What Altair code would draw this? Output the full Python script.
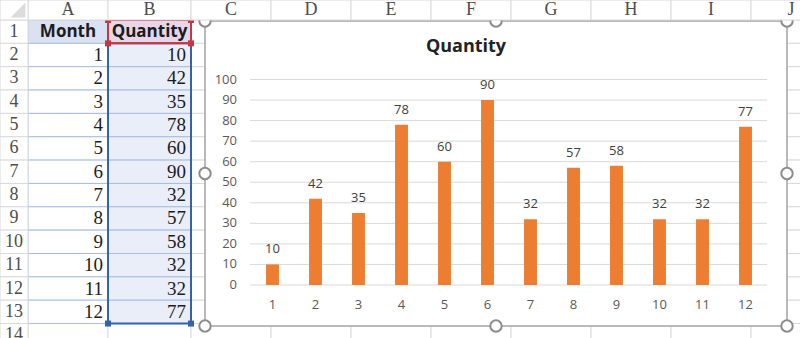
import altair as alt
import pandas as pd

# ---- worksheet contents -------------------------------------------------
columns = ["A", "B", "C", "D", "E", "F", "G", "H", "I", "J"]
sheet_rows = list(range(1, 15))
header_labels = ["Month", "Quantity"]
months = [1, 2, 3, 4, 5, 6, 7, 8, 9, 10, 11, 12]
quantity = [10, 42, 35, 78, 60, 90, 32, 57, 58, 32, 32, 77]
y_ticks = [0, 10, 20, 30, 40, 50, 60, 70, 80, 90, 100]
chart_title = "Quantity"

SERIF = "Liberation Serif"
SANS = "Open Sans"

# ---- scales ---------------------------------------------------------------
# sheet grid in column / row units (columns A and B are a little wider)
sx = alt.Scale(domain=[0, 1, 2, 10], range=[28, 108, 191, 831], zero=False, nice=False)
sy = alt.Scale(domain=[0, 14], range=[20, 346.9], zero=False, nice=False)
# embedded chart object frame in relative units
fx = alt.Scale(domain=[0, 1], range=[205, 787], zero=False, nice=False)
fy = alt.Scale(domain=[0, 1], range=[21, 326], zero=False, nice=False)
# column chart plot area
bx = alt.Scale(type="band", domain=[str(m) for m in months], range=[251, 767],
               paddingInner=0.7, paddingOuter=0.35)
by = alt.Scale(domain=[0, 100], range=[285, 79.5], zero=False, nice=False)

# ---- derived tables -------------------------------------------------------
cells = []
for ci, col in enumerate(columns):
    for r in sheet_rows:
        if r == 1 and col == "A":
            zone = "hdr_a"
        elif r == 1 and col == "B":
            zone = "hdr_b"
        elif 2 <= r <= 13 and col == "A":
            zone = "sel_a"
        elif 2 <= r <= 13 and col == "B":
            zone = "sel_b"
        else:
            zone = "plain"
        cells.append({"x0": ci, "x1": ci + 1, "y0": r - 1, "y1": r, "zone": zone,
                      "order": 0 if zone == "plain" else 1})
cells_df = pd.DataFrame(cells).sort_values("order", kind="stable")

zones = ["plain", "hdr_a", "hdr_b", "sel_a", "sel_b"]
zone_fill = ["#ffffff", "#d9e1f2", "#e6d6e7", "#ffffff", "#e9eef8"]
zone_stroke = ["#dadada", "#c8d2e6", "#d6c4d8", "#a9bde2", "#a9bde2"]

col_df = pd.DataFrame({"x0": range(len(columns)), "label": columns})
col_df["x1"] = col_df["x0"] + 1
col_df["xm"] = col_df["x0"] + 0.5

row_df = pd.DataFrame({"row": sheet_rows})
row_df["y0"] = row_df["row"] - 1
row_df["y1"] = row_df["row"]
row_df["ym"] = row_df["row"] - 0.5
row_df["label"] = row_df["row"].astype(str)

head_df = pd.DataFrame({"xm": [0.5, 1.5], "ym": [0.5, 0.5], "label": header_labels})

values_df = pd.DataFrame({
    "xr": [1] * len(months) + [2] * len(quantity),
    "ym": [i + 1.5 for i in range(len(months))] * 2,
    "label": [str(m) for m in months] + [str(q) for q in quantity],
})

data_df = pd.DataFrame({"Month": [str(m) for m in months], "Quantity": quantity})
tick_df = pd.DataFrame({"tick": y_ticks, "label": [str(t) for t in y_ticks]})

# selection outlines on the sheet
sel_df = pd.DataFrame({"x0": [1], "x1": [2], "y0": [1], "y1": [13]})
active_df = pd.DataFrame({"x0": [1], "x1": [2], "y0": [0], "y1": [1]})
red_handles = pd.DataFrame({"x": [1, 2, 1, 2], "y": [0, 0, 1, 1]})
blue_handles = pd.DataFrame({"x": [1, 2], "y": [13, 13]})

frame_df = pd.DataFrame({"x0": [0], "x1": [1], "y0": [0], "y1": [1]})
frame_handles = pd.DataFrame({
    "x": [0, 0.5, 1, 0, 1, 0, 0.5, 1],
    "y": [0, 0, 0, 0.5, 0.5, 1, 1, 1],
})

# ---- layers -----------------------------------------------------------------
layers = []

# worksheet cells
layers.append(
    alt.Chart(cells_df).mark_rect(strokeWidth=1).encode(
        x=alt.X("x0:Q", scale=sx, axis=None), x2="x1:Q",
        y=alt.Y("y0:Q", scale=sy, axis=None), y2="y1:Q",
        fill=alt.Fill("zone:N", scale=alt.Scale(domain=zones, range=zone_fill), legend=None),
        stroke=alt.Stroke("zone:N", scale=alt.Scale(domain=zones, range=zone_stroke), legend=None),
    )
)

# row header column
layers.append(
    alt.Chart(row_df).mark_rect(fill="#ffffff", stroke="#dadada", strokeWidth=1).encode(
        x=alt.value(0), x2=alt.value(28),
        y=alt.Y("y0:Q", scale=sy, axis=None), y2="y1:Q",
    )
)
layers.append(
    alt.Chart(row_df).mark_text(font=SERIF, fontSize=18, color="#4d4d4d").encode(
        x=alt.value(14),
        y=alt.Y("ym:Q", scale=sy, axis=None),
        text="label:N",
    )
)

# header cells "Month" / "Quantity"
layers.append(
    alt.Chart(head_df).mark_text(font=SANS, fontSize=17, fontWeight="bold", color="#1c1c1c").encode(
        x=alt.X("xm:Q", scale=sx, axis=None),
        y=alt.Y("ym:Q", scale=sy, axis=None),
        text="label:N",
    )
)

# cell values, right aligned
layers.append(
    alt.Chart(values_df).mark_text(font=SERIF, fontSize=19, color="#1c1c1c",
                                   align="right", dx=-5).encode(
        x=alt.X("xr:Q", scale=sx, axis=None),
        y=alt.Y("ym:Q", scale=sy, axis=None),
        text="label:N",
    )
)

# selection outlines and handles
layers.append(
    alt.Chart(sel_df).mark_rect(fill=None, stroke="#3463a8", strokeWidth=2).encode(
        x=alt.X("x0:Q", scale=sx, axis=None), x2="x1:Q",
        y=alt.Y("y0:Q", scale=sy, axis=None), y2="y1:Q",
    )
)
layers.append(
    alt.Chart(active_df).mark_rect(fill=None, stroke="#c8363e", strokeWidth=2).encode(
        x=alt.X("x0:Q", scale=sx, axis=None), x2="x1:Q",
        y=alt.Y("y0:Q", scale=sy, axis=None), y2="y1:Q",
    )
)
layers.append(
    alt.Chart(red_handles).mark_square(size=36, filled=True, color="#c8363e", opacity=1).encode(
        x=alt.X("x:Q", scale=sx, axis=None),
        y=alt.Y("y:Q", scale=sy, axis=None),
    )
)
layers.append(
    alt.Chart(blue_handles).mark_square(size=36, filled=True, color="#3463a8", opacity=1).encode(
        x=alt.X("x:Q", scale=sx, axis=None),
        y=alt.Y("y:Q", scale=sy, axis=None),
    )
)

# chart object frame
layers.append(
    alt.Chart(frame_df).mark_rect(fill="#ffffff", stroke="#a3a3a3", strokeWidth=1.5).encode(
        x=alt.X("x0:Q", scale=fx, axis=None), x2="x1:Q",
        y=alt.Y("y0:Q", scale=fy, axis=None), y2="y1:Q",
    )
)

# chart title
layers.append(
    alt.Chart(pd.DataFrame({"t": [chart_title]})).mark_text(
        font=SANS, fontSize=18, fontWeight="bold", color="#222222"
    ).encode(x=alt.value(466), y=alt.value(47), text="t:N")
)

# gridlines and y labels
layers.append(
    alt.Chart(tick_df).mark_rule(stroke="#d9d9d9", strokeWidth=1).encode(
        x=alt.value(250), x2=alt.value(767),
        y=alt.Y("tick:Q", scale=by, axis=None),
    )
)
layers.append(
    alt.Chart(tick_df).mark_text(font=SANS, fontSize=13, color="#595959", align="right").encode(
        x=alt.value(237),
        y=alt.Y("tick:Q", scale=by, axis=None),
        text="label:N",
    )
)

# bars
layers.append(
    alt.Chart(data_df).mark_bar(color="#ed7d31").encode(
        x=alt.X("Month:O", scale=bx, axis=None, sort=None),
        y=alt.Y("Quantity:Q", scale=by, axis=None),
        y2=alt.datum(0),
    )
)
# value labels
layers.append(
    alt.Chart(data_df).mark_text(font=SANS, fontSize=13, color="#404040",
                                 baseline="bottom", dy=-8).encode(
        x=alt.X("Month:O", scale=bx, axis=None, sort=None),
        y=alt.Y("Quantity:Q", scale=by, axis=None),
        text="Quantity:Q",
    )
)
# category labels
layers.append(
    alt.Chart(data_df).mark_text(font=SANS, fontSize=13, color="#595959").encode(
        x=alt.X("Month:O", scale=bx, axis=None, sort=None),
        y=alt.value(305),
        text="Month:N",
    )
)

# frame handles
layers.append(
    alt.Chart(frame_handles).mark_point(shape="circle", size=130, filled=True, fill="#ffffff",
                                        stroke="#8c8c8c", strokeWidth=2, opacity=1).encode(
        x=alt.X("x:Q", scale=fx, axis=None),
        y=alt.Y("y:Q", scale=fy, axis=None),
    )
)

# column header row (drawn last, it stays above the chart object)
layers.append(
    alt.Chart(col_df).mark_rect(fill="#ffffff", stroke="#dadada", strokeWidth=1).encode(
        x=alt.X("x0:Q", scale=sx, axis=None), x2="x1:Q",
        y=alt.value(0), y2=alt.value(20),
    )
)
layers.append(
    alt.Chart(pd.DataFrame({"a": [0]})).mark_rect(fill="#ffffff", stroke="#dadada", strokeWidth=1).encode(
        x=alt.value(0), x2=alt.value(28), y=alt.value(0), y2=alt.value(20),
    )
)
layers.append(
    alt.Chart(pd.DataFrame({"a": [0]})).mark_point(
        shape="M 1 -1 L 1 1 L -1 1 Z", size=220, filled=True, fill="#dcdcdc", opacity=1
    ).encode(x=alt.value(18), y=alt.value(10))
)
layers.append(
    alt.Chart(col_df).mark_text(font=SERIF, fontSize=18, color="#4d4d4d").encode(
        x=alt.X("xm:Q", scale=sx, axis=None),
        y=alt.value(10),
        text="label:N",
    )
)

chart = (
    alt.layer(*layers)
    .resolve_scale(x="independent", y="independent", fill="independent", stroke="independent")
    .properties(width=800, height=338, autosize=alt.AutoSizeParams(type="none"),
                padding=0, background="#ffffff")
    .configure_view(stroke=None)
)

chart.save("out.html", embed_options={"renderer": "svg", "actions": False})
